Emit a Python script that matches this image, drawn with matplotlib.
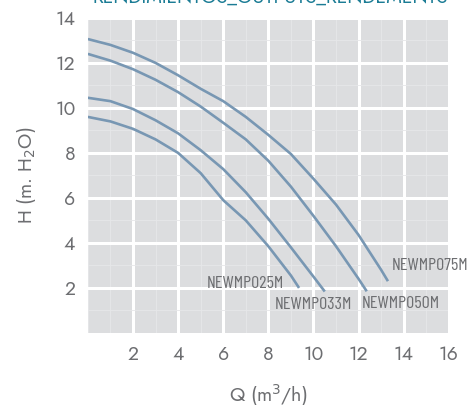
import matplotlib
matplotlib.use('Agg')
import matplotlib.pyplot as plt
from matplotlib.ticker import MultipleLocator
import logging
logging.getLogger('matplotlib.font_manager').setLevel(logging.ERROR)

# curves: Q (m3/h) -> H (m)
q_075 = [0, 1, 2, 3, 4, 5, 6, 7, 8, 9, 10, 11, 12, 13, 13.3]
h_075 = [13.06, 12.8, 12.45, 12.0, 11.45, 10.85, 10.3, 9.6, 8.8, 7.95, 6.85, 5.7, 4.35, 2.8, 2.3]
q_050 = [0, 1, 2, 3, 4, 5, 6, 7, 8, 9, 10, 11, 12, 12.36]
h_050 = [12.4, 12.1, 11.72, 11.25, 10.7, 10.06, 9.34, 8.6, 7.65, 6.5, 5.2, 3.85, 2.4, 1.85]
q_033 = [0, 1, 2, 3, 4, 5, 6, 7, 8, 9, 10, 10.5]
h_033 = [10.45, 10.3, 9.95, 9.45, 8.87, 8.12, 7.28, 6.25, 5.07, 3.8, 2.5, 1.84]
q_025 = [0, 1, 2, 3, 4, 5, 6, 7, 8, 9, 9.36]
h_025 = [9.6, 9.4, 9.07, 8.6, 8.0, 7.1, 5.9, 5.0, 3.85, 2.55, 2.0]

names = ['NEWMP075M', 'NEWMP050M', 'NEWMP033M', 'NEWMP025M']
label_pos = [(13.45, 3.0), (12.15, 1.3), (8.3, 1.28), (5.25, 2.2)]

narrow = ['Barlow Condensed', 'Roboto Condensed', 'Oswald', 'DejaVu Sans']
round_f = ['Jost', 'Lato', 'DejaVu Sans']

fig = plt.figure(figsize=(4.7, 4.07), dpi=100)
ax = fig.add_axes([0.187, 0.182, 0.768, 0.774])
ax.set_facecolor('#dcdddf')

curves = [(q_075, h_075), (q_050, h_050), (q_033, h_033), (q_025, h_025)]
for (q, h) in curves:
	ax.plot(q, h, color='#7897b3', lw=1.9, solid_capstyle='butt', solid_joinstyle='round', zorder=3)

for n, (x, y) in zip(names, label_pos):
	ax.text(x, y, n, family=narrow, fontsize=13, color='#6d6e71', va='center', ha='left', zorder=4)

ax.set_xlim(0, 16)
ax.set_ylim(0, 14)
ax.xaxis.set_minor_locator(MultipleLocator(1))
ax.yaxis.set_minor_locator(MultipleLocator(1))
ax.grid(which='major', color='white', lw=2.2, zorder=1)
ax.grid(which='minor', color='#e6e7e9', lw=0.6, zorder=0)
ax.set_axisbelow(True)
for s in ax.spines.values():
	s.set_visible(False)
for side in ['top', 'right']:
	ax.spines[side].set_visible(True)
	ax.spines[side].set_color('white')
	ax.spines[side].set_linewidth(2.2)

ax.set_xticks([2, 4, 6, 8, 10, 12, 14, 16])
ax.set_yticks([2, 4, 6, 8, 10, 12, 14])
ax.tick_params(which='both', length=0, labelsize=14, labelcolor='#6d6e71', pad=9)
for lab in ax.get_xticklabels() + ax.get_yticklabels():
	lab.set_family(round_f)

ax.set_xlabel('Q (m$^3$/h)', fontsize=14, color='#6d6e71', family=round_f, labelpad=13)
ax.set_ylabel('H (m. H$_2$O)', fontsize=14, color='#6d6e71', family=round_f, labelpad=12)

# title sits mostly above the top edge, as in the source picture
fig.text(0.574, 0.994, 'RENDIMIENTOS_OUTPUTS_RENDEMENTS', fontsize=14, color='#1b7c95',
	ha='center', va='baseline', family=round_f, weight='medium')

fig.savefig('out.png', dpi=100)
